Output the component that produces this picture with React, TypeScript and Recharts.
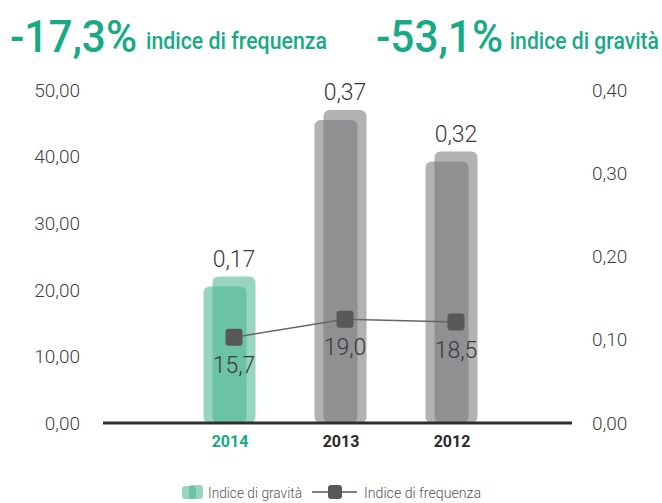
import { ComposedChart, Bar, Line, XAxis, YAxis, LabelList } from "recharts";

const years = ["2014", "2013", "2012"];
const gravita = [0.17, 0.37, 0.32];
const frequenza = [15.7, 19.0, 18.5];
const freqTicks = [0, 10, 20, 30, 40, 50];
const gravTicks = [0, 0.1, 0.2, 0.3, 0.4];

const data = years.map((anno, i) => ({
  anno,
  gravita: gravita[i],
  frequenza: frequenza[i],
}));

const GREEN = "#19a986";
const barColors = ["#47b48e", "#757578", "#757578"];
const FONT = "Roboto, 'Noto Sans', sans-serif";
const comma = (v: number, d: number) => v.toFixed(d).replace(".", ",");

// two overlapping translucent rounded bars, like the printed chart
function DoubleBar(props: any) {
  const { x, y, width, height, index } = props;
  const fill = barColors[index];
  const bottom = y + height;
  return (
    <g>
      <rect x={x - 9} y={y + 5} width={width} height={bottom - y - 5} rx={6} fill={fill} fillOpacity={0.56} />
      <rect x={x} y={y - 5} width={width} height={bottom - y + 5} rx={6} fill={fill} fillOpacity={0.56} />
    </g>
  );
}

function SquareDot(props: any) {
  const { cx, cy } = props;
  return <rect x={cx - 8.5} y={cy - 8.5} width={17} height={17} rx={3} fill="#58585a" />;
}

function YearTick(props: any) {
  const { x, y, payload, index } = props;
  return (
    <text
      x={x - 4}
      y={y + 16}
      textAnchor="middle"
      dominantBaseline="central"
      fontFamily={FONT}
      fontSize={16}
      fontWeight={700}
      fill={index === 0 ? GREEN : "#2a2a2a"}
    >
      {payload.value}
    </text>
  );
}

const tickStyle = { fontFamily: FONT, fontSize: 19, fontWeight: 300, fill: "#3f3f3f" };

export default function App() {
  return (
    <div style={{ position: "absolute", left: 0, top: 0, width: 662, height: 503, background: "#fff" }}>
      <ComposedChart
        width={662}
        height={503}
        data={data}
        margin={{ top: 90, right: 0, left: 0, bottom: 50 }}
      >
        <XAxis
          dataKey="anno"
          padding={{ left: 75.5, right: 60.5 }}
          axisLine={{ stroke: "#2e2e2e", strokeWidth: 3 }}
          tickLine={false}
          tickSize={0}
          height={30}
          tick={<YearTick />}
        />
        <YAxis
          yAxisId="freq"
          orientation="left"
          width={103}
          domain={[0, 50]}
          allowDataOverflow
          ticks={freqTicks}
          tickFormatter={(v) => comma(v, 2)}
          axisLine={false}
          tickLine={false}
          tickSize={0}
          tickMargin={23}
          tick={tickStyle}
        />
        <YAxis
          yAxisId="grav"
          orientation="right"
          width={90}
          domain={[0, 0.4]}
          ticks={gravTicks}
          tickFormatter={(v) => comma(v, 2)}
          axisLine={false}
          tickLine={false}
          tickSize={0}
          tickMargin={20}
          tick={tickStyle}
        />
        <YAxis yAxisId="line" hide domain={[0, 61]} />
        <Bar
          yAxisId="grav"
          dataKey="gravita"
          barSize={43}
          shape={<DoubleBar />}
          isAnimationActive={false}
        >
          <LabelList
            dataKey="gravita"
            content={(p: any) => (
              <text
                x={p.x + p.width / 2}
                y={p.y - 22}
                textAnchor="middle"
                dominantBaseline="central"
                fontFamily={FONT}
                fontSize={23}
                fontWeight={300}
                fill="#3a3a3a"
              >
                {comma(p.value, 2)}
              </text>
            )}
          />
        </Bar>
        <Line
          yAxisId="line"
          dataKey="frequenza"
          stroke="#666"
          strokeWidth={1.5}
          dot={<SquareDot />}
          activeDot={false}
          isAnimationActive={false}
        >
          <LabelList
            dataKey="frequenza"
            content={(p: any) => (
              <text
                x={p.x}
                y={p.y + 28}
                textAnchor="middle"
                dominantBaseline="central"
                fontFamily={FONT}
                fontSize={23}
                fontWeight={300}
                fill="#3a3a3a"
              >
                {comma(p.value, 1)}
              </text>
            )}
          />
        </Line>
      </ComposedChart>

      <svg
        width={662}
        height={503}
        style={{ position: "absolute", left: 0, top: 0, pointerEvents: "none" }}
        fontFamily={FONT}
      >
        <text x={10} y={52} fontSize={44} fontWeight={500} fill={GREEN} textLength={127} lengthAdjust="spacingAndGlyphs">-17,3%</text>
        <text x={146} y={49} fontSize={23} fontWeight={500} fill={GREEN} textLength={181} lengthAdjust="spacingAndGlyphs">indice di frequenza</text>
        <text x={376} y={52} fontSize={44} fontWeight={500} fill={GREEN} textLength={127} lengthAdjust="spacingAndGlyphs">-53,1%</text>
        <g transform="translate(659,49) scale(0.92,1)">
          <text x={0} y={0} textAnchor="end" fontSize={23} fontWeight={500} fill={GREEN}>indice di gravità</text>
        </g>

        <rect x={182} y={486} width={14} height={13} rx={3} fill="#47b48e" fillOpacity={0.56} />
        <rect x={189} y={485} width={14} height={14} rx={3} fill="#47b48e" fillOpacity={0.56} />
        <text x={208} y={498} fontSize={14} fontWeight={300} fill="#555" textLength={94} lengthAdjust="spacingAndGlyphs">Indice di gravità</text>
        <line x1={312} y1={492} x2={357} y2={492} stroke="#555" strokeWidth={1.5} />
        <rect x={328} y={485} width={14} height={14} rx={3} fill="#58585a" />
        <text x={364} y={498} fontSize={14} fontWeight={300} fill="#555" textLength={117} lengthAdjust="spacingAndGlyphs">Indice di frequenza</text>
      </svg>
    </div>
  );
}
